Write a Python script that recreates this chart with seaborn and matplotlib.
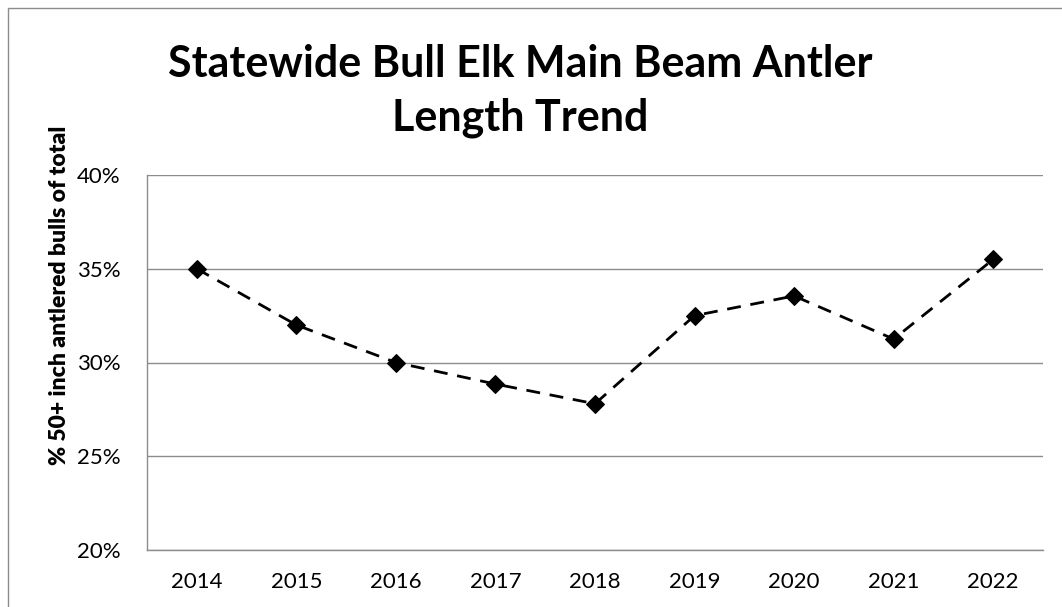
import matplotlib
matplotlib.use("Agg")
import matplotlib.pyplot as plt
import matplotlib.ticker as mticker
import seaborn as sns
import pandas as pd

# data
years = ["2014", "2015", "2016", "2017", "2018", "2019", "2020", "2021", "2022"]
pct_50plus = [35.0, 32.0, 30.0, 28.85, 27.8, 32.5, 33.55, 31.25, 35.5]

df = pd.DataFrame({"year": years, "pct": pct_50plus})

sns.set_style("white")
plt.rcParams["font.family"] = ["Lato", "DejaVu Sans"]
plt.rcParams["text.color"] = "black"
plt.rcParams["xtick.color"] = "black"
plt.rcParams["ytick.color"] = "black"
plt.rcParams["axes.labelcolor"] = "black"

fig = plt.figure(figsize=(10.62, 6.07), dpi=100)
ax = fig.add_axes([147 / 1062, 1 - 550 / 607, (1043 - 147) / 1062, (550 - 175) / 607])

sns.lineplot(data=df, x="year", y="pct", ax=ax, color="black", linestyle="--",
             linewidth=2, marker="D", markersize=9, markeredgecolor="black")
ax.lines[0].set_dashes([5, 3.5])

ax.set_xlim(-0.5, len(years) - 0.5)
ax.set_ylim(20, 40)
ax.set_yticks([20, 25, 30, 35, 40])
ax.yaxis.set_major_formatter(mticker.FuncFormatter(lambda v, p: f"{v:.0f}%"))
ax.yaxis.grid(True, color="#8c8c8c", linewidth=1)
ax.set_axisbelow(True)

# Excel-style category ticks between labels
ax.set_xticks(range(len(years)))
ax.set_xticklabels(years)
ax.set_xticks([i - 0.5 for i in range(len(years) + 1)], minor=True)
ax.tick_params(axis="x", which="major", length=0, pad=16, labelsize=16, labelcolor="black")
ax.tick_params(axis="x", which="minor", length=6, color="#8c8c8c", width=1, direction="out")
ax.tick_params(axis="y", length=7, color="#8c8c8c", width=1, direction="out",
               labelsize=16, pad=12, labelcolor="black")

for s in ["top", "right"]:
    ax.spines[s].set_visible(False)
for s in ["left", "bottom"]:
    ax.spines[s].set_color("#8c8c8c")
    ax.spines[s].set_linewidth(1)

ax.set_xlabel("")
ax.set_ylabel("% 50+ inch antlered bulls of total", fontsize=16.5, color="black")
ax.yaxis.label.set_fontweight("heavy")
ax.yaxis.set_label_coords(-0.098, 0.68)
ax.yaxis.label.set_va("center")

fig.text(0.49, 1 - 91 / 607, "Statewide Bull Elk Main Beam Antler\nLength Trend",
         ha="center", va="center", fontsize=31, fontweight="bold", linespacing=1.4,
         color="black")

# chart border
fig.add_artist(plt.Rectangle((8 / 1062, -0.01), 1.1, 1 - 8 / 607 + 0.01,
                             transform=fig.transFigure, fill=False,
                             edgecolor="#8c8c8c", linewidth=1))

fig.savefig("out.png", dpi=100)
